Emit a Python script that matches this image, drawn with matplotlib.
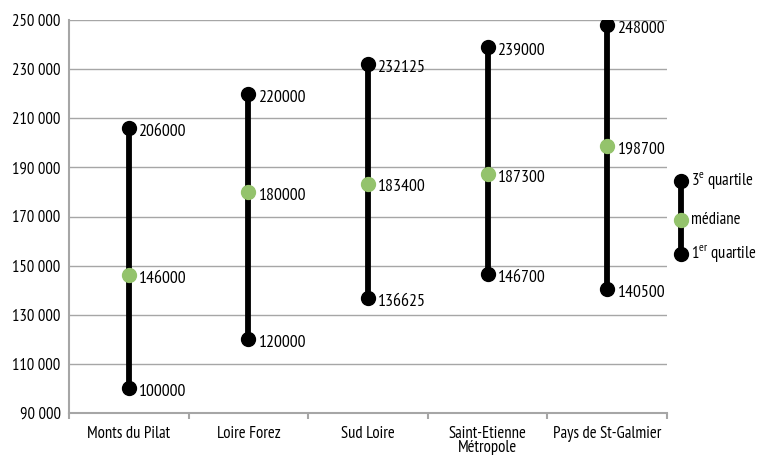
import matplotlib
matplotlib.use("Agg")
import matplotlib.pyplot as plt
from matplotlib import font_manager

# Data: price quartiles per territory
categories = ["Monts du Pilat", "Loire Forez", "Sud Loire",
              "Saint-Etienne\nMétropole", "Pays de St-Galmier"]
q1 = [100000, 120000, 136625, 146700, 140500]
median = [146000, 180000, 183400, 187300, 198700]
q3 = [206000, 220000, 232125, 239000, 248000]
y_ticks = [90000, 110000, 130000, 150000, 170000, 190000, 210000, 230000, 250000]

names = {f.name for f in font_manager.fontManager.ttflist}
preferred = ["PT Sans Narrow", "Fira Sans Condensed", "Roboto Condensed",
             "Open Sans Condensed", "Archivo Narrow", "Asap Condensed",
             "Barlow Semi Condensed", "DejaVu Sans"]
base = next(n for n in preferred if n in names)
plt.rcParams["font.family"] = [base, "DejaVu Sans"]
plt.rcParams["mathtext.fontset"] = "custom"
plt.rcParams["mathtext.rm"] = base

BLACK = "#000000"
GREEN = "#94C36C"
GRID = "#A6A6A6"
FS = 12
FS_VAL = 12.8
LW = 4.2
MS = 10

fig = plt.figure(figsize=(7.64, 4.55), dpi=100)
ax = fig.add_axes([69 / 764, 42 / 455, 598 / 764, 393 / 455])

x = list(range(len(categories)))
ax.set_xlim(-0.5, len(categories) - 0.5)
ax.set_ylim(y_ticks[0], y_ticks[-1])

for xi, lo, mid, hi in zip(x, q1, median, q3):
    ax.plot([xi, xi], [lo, hi], color=BLACK, lw=LW, solid_capstyle="butt", zorder=3)
    ax.plot([xi, xi], [lo, hi], "o", color=BLACK, ms=MS, zorder=4)
    ax.plot(xi, mid, "o", color=GREEN, ms=MS, zorder=5)
    for v in (lo, mid, hi):
        ax.annotate(f"{v}", (xi, v), xytext=(7.5, -2.8), textcoords="offset points",
                    ha="left", va="center", fontsize=FS_VAL, color=BLACK)

# Axes styling
ax.set_yticks(y_ticks)
ax.set_yticklabels([f"{v:,}".replace(",", " ") for v in y_ticks], fontsize=FS)
ax.tick_params(axis="y", length=0, pad=6)
ax.yaxis.grid(True, color=GRID, lw=1)
ax.set_axisbelow(True)

ax.set_xticks([i - 0.5 for i in range(len(categories) + 1)], minor=False)
ax.set_xticklabels([])
ax.set_xticks(x, minor=True)
ax.set_xticklabels(categories, minor=True, fontsize=FS, linespacing=0.9, va="top")
ax.tick_params(axis="x", which="major", length=4, width=1.5, color=GRID, direction="out")
ax.tick_params(axis="x", which="minor", length=0, pad=9)

for s in ("top", "right"):
    ax.spines[s].set_visible(False)
for s in ("left", "bottom"):
    ax.spines[s].set_color(GRID)
    ax.spines[s].set_linewidth(1.5)

# Legend drawn as a miniature range marker
lx = 681 / 764
ly_top, ly_mid, ly_bot = 1 - 181 / 455, 1 - 220 / 455, 1 - 254 / 455
fig.add_artist(plt.Line2D([lx, lx], [ly_bot, ly_top], color=BLACK, lw=LW,
                          transform=fig.transFigure))
fig.add_artist(plt.Line2D([lx, lx], [ly_bot, ly_top], color=BLACK, lw=0, marker="o",
                          ms=MS, transform=fig.transFigure))
fig.add_artist(plt.Line2D([lx], [ly_mid], color=GREEN, lw=0, marker="o",
                          ms=MS, transform=fig.transFigure))
tx = 691 / 764
fig.text(tx, ly_top, r"3$^{\mathrm{e}}$ quartile", fontsize=FS, va="center", ha="left")
fig.text(tx, ly_mid, "médiane", fontsize=FS, va="center", ha="left")
fig.text(tx, ly_bot, r"1$^{\mathrm{er}}$ quartile", fontsize=FS, va="center", ha="left")

fig.savefig("out.png", dpi=100)
